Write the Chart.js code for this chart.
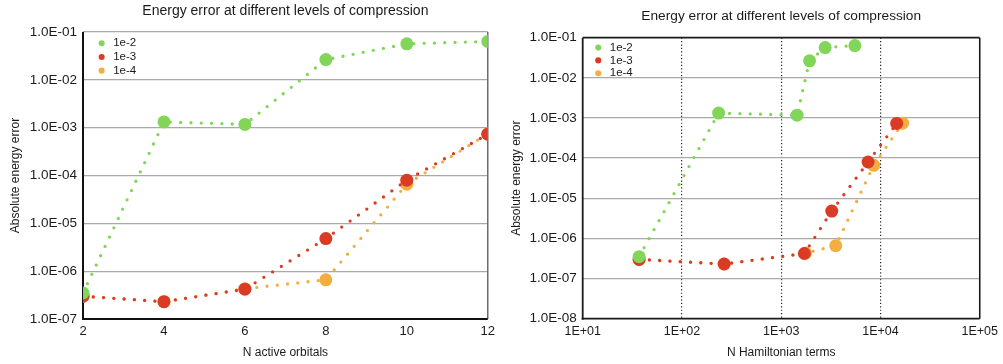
<!DOCTYPE html>
<html>
<head>
<meta charset="utf-8">
<title>Energy error</title>
<script src="https://cdn.jsdelivr.net/npm/chart.js@4.4.0/dist/chart.umd.min.js"></script>
<style>
  body { margin: 0; background: #fff; }
  #wrap { position: relative; width: 1003px; height: 364px; }
  canvas { position: absolute; top: 0; }
  #chartOrbitals { left: 0; }
  #chartTerms { left: 500px; }
</style>
</head>
<body>
<div id="wrap">
  <canvas id="chartOrbitals" width="500" height="364"></canvas>
  <canvas id="chartTerms" width="503" height="364"></canvas>
</div>
<script>
// compression thresholds and their colours
var levels = ['1e-2', '1e-3', '1e-4']
var colors = ['#81d659', '#da3b24', '#f3ae40']

var orbitals = [2, 4, 6, 8, 10, 12]

// absolute energy error per compression level
var error1e2 = [3.5e-7, 1.32e-3, 1.17e-3, 2.65e-2, 5.65e-2, 6.35e-2]
var error1e3 = [3.0e-7, 2.3e-7, 4.2e-7, 4.8e-6, 8.0e-5, 7.3e-4]
var error1e4 = [3.0e-7, 2.3e-7, 4.3e-7, 6.6e-7, 6.6e-5, 7.4e-4]

// number of hamiltonian terms left after compression
var terms1e2 = [37, 234, 1445, 1930, 2770, 5520]
var terms1e3 = [37, 266, 1710, 3230, 7500, 14560]
var terms1e4 = [37, 266, 1760, 3540, 8540, 16700]

var errorTicksLeft = [1e-7, 1e-6, 1e-5, 1e-4, 1e-3, 1e-2, 1e-1]
var errorTicksRight = [1e-8, 1e-7, 1e-6, 1e-5, 1e-4, 1e-3, 1e-2, 1e-1]
var termTicks = [1e1, 1e2, 1e3, 1e4, 1e5]

Chart.defaults.font.family = '"Liberation Sans", Arial, Helvetica, sans-serif'
Chart.defaults.color = '#1a1a1a'

function expo(v) {
    var e = Math.round(Math.log10(v))
    var n = Math.abs(e)
    return (e < 0 ? '-' : '+') + (n < 10 ? '0' : '') + n
}
function errorLabel(v) { return '1.0E' + expo(v) }
function termLabel(v) { return '1E' + expo(v) }

function series(i, xs, ys) {
    return {
        label: levels[i],
        data: xs.map(function (x, j) { return {x: x, y: ys[j]} }),
        borderColor: colors[i],
        backgroundColor: colors[i],
        showLine: true,
        tension: 0,
        borderWidth: 3.3,
        borderDash: [0, 10.3],
        borderCapStyle: 'round',
        pointRadius: 6.5,
        pointHoverRadius: 6.5,
        pointBorderWidth: 0
    }
}

// plot frame, drawn under the datasets
var frame = {
    id: 'frame',
    beforeDatasetsDraw(chart, args, opts) {
        var a = chart.chartArea
        var ctx = chart.ctx
        var side = function (s, x1, y1, x2, y2) {
            if (!s) return
            ctx.beginPath()
            ctx.strokeStyle = s.color
            ctx.lineWidth = s.width
            ctx.moveTo(x1, y1)
            ctx.lineTo(x2, y2)
            ctx.stroke()
        }
        ctx.save()
        side(opts.top, a.left, a.top, a.right, a.top)
        side(opts.right, a.right, a.top, a.right, a.bottom)
        side(opts.bottom, a.left - 1, a.bottom, a.right, a.bottom)
        side(opts.left, a.left, a.top, a.left, a.bottom + 1)
        ctx.restore()
    }
}

// legend sits inside the plot area, nudged off the corner
// (a vertical chartArea legend gets top = 0 from the layout, so set it here)
var legendNudge = {
    id: 'legendNudge',
    afterLayout(chart, args, opts) {
        var lg = chart.legend
        if (!lg) return
        var h = lg.height
        lg.left = chart.chartArea.left + opts.x
        lg.top = chart.chartArea.top + opts.y
        lg.bottom = lg.top + h
        lg.right = lg.left + lg.width
    }
}

function legendOptions(pad) {
    return {
        position: 'chartArea',
        align: 'start',
        labels: {
            usePointStyle: true,
            pointStyle: 'circle',
            boxWidth: 11.5,
            boxHeight: 4.3,
            padding: pad,
            font: {size: 11.5},
            color: '#1a1a1a',
            generateLabels: function (chart) {
                return Chart.defaults.plugins.legend.labels.generateLabels(chart).map(function (l) {
                    l.lineWidth = 0
                    l.lineDash = []
                    return l
                })
            }
        }
    }
}

function axisTitle(text, pad) {
    return {display: true, text: text, font: {size: 12}, color: '#1a1a1a', padding: pad}
}

new Chart(document.getElementById('chartOrbitals'), {
    type: 'scatter',
    data: {
        datasets: [
            series(0, orbitals, error1e2),
            series(1, orbitals, error1e3),
            series(2, orbitals, error1e4)
        ]
    },
    options: {
        responsive: false,
        animation: false,
        layout: {padding: {left: 0, right: 8, top: 0, bottom: 0}},
        plugins: {
            title: {
                display: true,
                text: 'Energy error at different levels of compression',
                fullSize: false,
                font: {size: 14, weight: 'normal'},
                color: '#1a1a1a',
                padding: {top: 2.3, bottom: 12.9}
            },
            legend: legendOptions(2.2),
            legendNudge: {x: 10.7, y: 3.3},
            tooltip: {enabled: false},
            frame: {
                right: {color: '#6b6b6b', width: 1.5},
                bottom: {color: '#111', width: 2},
                left: {color: '#111', width: 2}
            }
        },
        scales: {
            x: {
                type: 'linear',
                min: 2,
                max: 12,
                ticks: {stepSize: 2, padding: 5, maxRotation: 0, font: {size: 13}},
                grid: {display: false, drawTicks: false},
                border: {display: false},
                title: axisTitle('N active orbitals', {top: 0, bottom: 4}),
                afterFit: function (s) { s.height = 45 }
            },
            y: {
                type: 'logarithmic',
                min: 1e-7,
                max: 1e-1,
                afterBuildTicks: function (s) { s.ticks = errorTicksLeft.map(function (v) { return {value: v} }) },
                ticks: {callback: errorLabel, padding: 6, autoSkip: false, font: {size: 13.5}},
                grid: {
                    color: function (c) { return c.index === 0 ? 'rgba(0,0,0,0)' : '#a9a9a9' },
                    lineWidth: 1.2,
                    drawTicks: false
                },
                border: {display: false},
                title: axisTitle('Absolute energy error', {top: 8, bottom: 0}),
                afterFit: function (s) { s.width = 83 }
            }
        }
    },
    plugins: [frame, legendNudge]
})

new Chart(document.getElementById('chartTerms'), {
    type: 'scatter',
    data: {
        datasets: [
            series(0, terms1e2, error1e2),
            series(1, terms1e3, error1e3),
            series(2, terms1e4, error1e4)
        ]
    },
    options: {
        responsive: false,
        animation: false,
        layout: {padding: {left: 0, right: 19, top: 0, bottom: 0}},
        plugins: {
            title: {
                display: true,
                text: 'Energy error at different levels of compression',
                fullSize: false,
                font: {size: 13.7, weight: 'normal'},
                color: '#1a1a1a',
                padding: {top: 7.6, bottom: 13.6}
            },
            legend: legendOptions(1.3),
            legendNudge: {x: 8.5, y: 2.9},
            tooltip: {enabled: false},
            frame: {
                top: {color: '#1a1a1a', width: 1.6},
                right: {color: '#1a1a1a', width: 1.6},
                bottom: {color: '#1a1a1a', width: 1.8},
                left: {color: '#1a1a1a', width: 1.8}
            }
        },
        scales: {
            x: {
                type: 'logarithmic',
                min: 10,
                max: 1e5,
                afterBuildTicks: function (s) { s.ticks = termTicks.map(function (v) { return {value: v} }) },
                ticks: {callback: termLabel, padding: 5, autoSkip: false, maxRotation: 0, font: {size: 12.5}},
                grid: {
                    color: function (c) { return (c.index === 0 || c.index === termTicks.length - 1) ? 'rgba(0,0,0,0)' : '#222' },
                    lineWidth: 1.2,
                    drawTicks: false
                },
                border: {display: false, dash: [1.2, 2.2]},
                title: axisTitle('N Hamiltonian terms', {top: 0, bottom: 4}),
                afterFit: function (s) { s.height = 45.3 }
            },
            y: {
                type: 'logarithmic',
                min: 1e-8,
                max: 1e-1,
                afterBuildTicks: function (s) { s.ticks = errorTicksRight.map(function (v) { return {value: v} }) },
                ticks: {callback: errorLabel, padding: 6, autoSkip: false, font: {size: 13.5}},
                grid: {
                    color: function (c) { return (c.index === 0 || c.index === errorTicksRight.length - 1) ? 'rgba(0,0,0,0)' : '#a9a9a9' },
                    lineWidth: 1.2,
                    drawTicks: false
                },
                border: {display: false},
                title: axisTitle('Absolute energy error', {top: 9.5, bottom: 0}),
                afterFit: function (s) { s.width = 82.7 }
            }
        }
    },
    plugins: [frame, legendNudge]
})
</script>
</body>
</html>
